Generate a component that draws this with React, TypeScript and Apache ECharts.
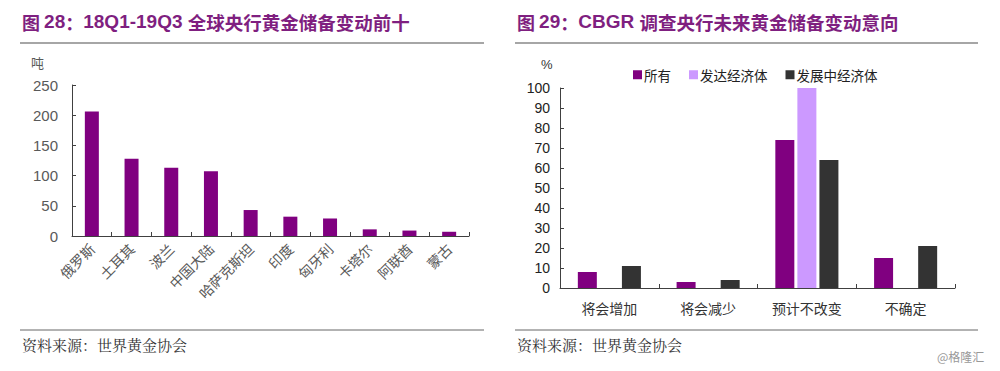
import React, { useEffect, useRef } from "react";
import * as echarts from "echarts";

const leftCategories = ["俄罗斯", "土耳其", "波兰", "中国大陆", "哈萨克斯坦", "印度", "匈牙利", "卡塔尔", "阿联酋", "蒙古"];
const leftValues = [206, 128, 113, 107, 43, 32, 29, 11, 9, 7];
const leftTicks = [0, 50, 100, 150, 200, 250];

const rightCategories = ["将会增加", "将会减少", "预计不改变", "不确定"];
const seriesAll = [8, 3, 74, 15];
const seriesDeveloped = [0, 0, 100, 0];
const seriesDeveloping = [11, 4, 64, 21];
const rightTicks = [0, 10, 20, 30, 40, 50, 60, 70, 80, 90, 100];

const PURPLE = "#800080";
const LAVENDER = "#CC99FF";
const DARK = "#333333";
const TITLE = "#7F1F80";
const CJK = "'Noto Sans CJK SC', sans-serif";
const ARIAL = "'Liberation Sans', Arial, sans-serif";

const titleRich = {
  c: { fontSize: 18, fontWeight: "bold", fill: TITLE, fontFamily: CJK },
  a: { fontSize: 19, fontWeight: "bold", fill: TITLE, fontFamily: ARIAL },
  s: { fontSize: 18.5, fontWeight: "bold", fill: TITLE, fontFamily: CJK },
};

export default function App() {
  const ref = useRef<HTMLDivElement>(null);
  useEffect(() => {
    document.body.style.margin = "0";
    const chart = echarts.init(ref.current!, null, { renderer: "svg" });
    const axisLine = { show: true, lineStyle: { color: "#404040", width: 1 } };
    chart.setOption({
      animation: false,
      backgroundColor: "#ffffff",
      grid: [
        { left: 72, top: 85, width: 397, height: 151 },
        { left: 560, top: 88, width: 395, height: 200 },
      ],
      legend: {
        left: 628,
        top: 63,
        itemWidth: 9,
        itemHeight: 9,
        itemGap: 18,
        icon: "rect",
        textStyle: { fontSize: 13.5, color: "#222", fontFamily: CJK, padding: [0, 0, 0, -3] },
        data: ["所有", "发达经济体", "发展中经济体"],
      },
      xAxis: [
        {
          gridIndex: 0,
          type: "category",
          data: leftCategories,
          axisLine,
          axisTick: { show: true, inside: true, length: 4, lineStyle: { color: "#404040" } },
          axisLabel: { rotate: 45, fontSize: 14, color: "#595959", fontFamily: CJK, margin: 10, interval: 0 },
        },
        {
          gridIndex: 1,
          type: "category",
          data: rightCategories,
          axisLine,
          axisTick: { show: true, inside: true, length: 4, lineStyle: { color: "#404040" } },
          axisLabel: { fontSize: 14, color: "#333", fontFamily: CJK, margin: 13, interval: 0 },
        },
      ],
      yAxis: [
        {
          gridIndex: 0,
          type: "value",
          min: leftTicks[0],
          max: leftTicks[leftTicks.length - 1],
          interval: 50,
          axisLine,
          axisTick: { show: true, inside: true, length: 4, lineStyle: { color: "#404040" } },
          splitLine: { show: false },
          axisLabel: { fontSize: 15, color: "#595959", fontFamily: ARIAL, margin: 14 },
        },
        {
          gridIndex: 1,
          type: "value",
          min: rightTicks[0],
          max: rightTicks[rightTicks.length - 1],
          interval: 10,
          axisLine,
          axisTick: { show: true, inside: true, length: 4, lineStyle: { color: "#404040" } },
          splitLine: { show: false },
          axisLabel: { fontSize: 14, color: "#222", fontFamily: ARIAL, margin: 10 },
        },
      ],
      series: [
        {
          type: "bar",
          xAxisIndex: 0,
          yAxisIndex: 0,
          data: leftValues,
          barWidth: 14,
          itemStyle: { color: PURPLE },
        },
        {
          name: "所有",
          type: "bar",
          xAxisIndex: 1,
          yAxisIndex: 1,
          data: seriesAll,
          barWidth: 19,
          barGap: "16%",
          itemStyle: { color: PURPLE },
        },
        {
          name: "发达经济体",
          type: "bar",
          xAxisIndex: 1,
          yAxisIndex: 1,
          data: seriesDeveloped,
          barWidth: 19,
          barGap: "16%",
          itemStyle: { color: LAVENDER },
        },
        {
          name: "发展中经济体",
          type: "bar",
          xAxisIndex: 1,
          yAxisIndex: 1,
          data: seriesDeveloping,
          barWidth: 19,
          barGap: "16%",
          itemStyle: { color: DARK },
        },
      ],
      graphic: [
        {
          type: "text",
          left: 22,
          top: 12,
          style: { text: "{c|图 }{a|28}{c|：}{a|18Q1-19Q3 }{s|全球央行黄金储备变动前十}", rich: titleRich },
        },
        {
          type: "text",
          left: 517,
          top: 12,
          style: { text: "{c|图 }{a|29}{c|：}{a|CBGR }{s|调查央行未来黄金储备变动意向}", rich: titleRich },
        },
        { type: "line", shape: { x1: 20, y1: 43, x2: 484, y2: 43 }, style: { stroke: "#888", lineWidth: 1.5 } },
        { type: "line", shape: { x1: 515, y1: 43, x2: 978, y2: 43 }, style: { stroke: "#888", lineWidth: 1.5 } },
        { type: "line", shape: { x1: 20, y1: 330, x2: 484, y2: 330 }, style: { stroke: "#666", lineWidth: 1 } },
        { type: "line", shape: { x1: 515, y1: 330, x2: 978, y2: 330 }, style: { stroke: "#666", lineWidth: 1 } },
        { type: "text", left: 31, top: 56, style: { text: "吨", fontSize: 13, fill: "#595959", fontFamily: CJK } },
        { type: "text", left: 541, top: 58, style: { text: "%", fontSize: 13, fill: "#333", fontFamily: ARIAL } },
        {
          type: "text",
          left: 22,
          top: 337,
          style: { text: "资料来源：世界黄金协会", fontSize: 15, fill: "#333", fontFamily: "'Noto Serif CJK SC', 'Noto Sans CJK SC', serif" },
        },
        {
          type: "text",
          left: 517,
          top: 337,
          style: { text: "资料来源：世界黄金协会", fontSize: 15, fill: "#333", fontFamily: "'Noto Serif CJK SC', 'Noto Sans CJK SC', serif" },
        },
        { type: "text", left: 937, top: 350, style: { text: "@格隆汇", fontSize: 12, fill: "#999", fontFamily: CJK } },
      ],
    });
    return () => chart.dispose();
  }, []);
  return <div ref={ref} style={{ position: "absolute", left: 0, top: 0, width: 1000, height: 371 }} />;
}
